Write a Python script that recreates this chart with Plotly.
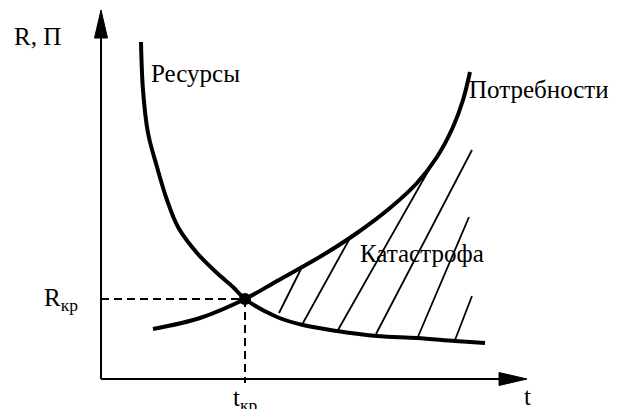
import plotly.graph_objects as go

res_t=[1.0,1.05,1.175,1.4,1.65,1.925,2.4,2.9,3.3,3.6,4.4,5.05,5.9,6.9,7.9,8.85,9.6]
res_v=[8.425,7.225,6.15,5.3,4.475,3.8,3.15,2.65,2.3,2.0,1.55,1.35,1.2,1.075,1.025,0.95,0.9]

need_t=[1.3,2.475,3.6,4.4,5.55,6.4,7.225,7.9,8.4,8.8,9.05,9.225]
need_v=[1.25,1.525,2.0,2.45,3.1,3.65,4.275,4.9,5.55,6.3,6.975,7.675]

hatch_top_t=[5.025,6.225,8.35,9.275,9.2,9.275]
hatch_top_v=[2.8,3.525,5.5,5.725,4.05,2.075]
hatch_bot_t=[4.45,5.05,5.925,6.875,7.9,8.85]
hatch_bot_v=[1.65,1.4,1.225,1.125,1.0,0.975]

crit_t=3.6
crit_v=2.0

t_max=10.65
v_max=9.225
head_len=0.7
head_half=0.1625

font="Times New Roman, Liberation Serif, serif"

fig=go.Figure()

hx=[]
hy=[]
for i in range(len(hatch_top_t)):
    hx+= [hatch_top_t[i],hatch_bot_t[i],None]
    hy+= [hatch_top_v[i],hatch_bot_v[i],None]
fig.add_trace(go.Scatter(x=hx,y=hy,mode="lines",line=dict(color="black",width=1.8)))

fig.add_trace(go.Scatter(x=[0,crit_t],y=[crit_v,crit_v],mode="lines",
    line=dict(color="black",width=2,dash="8px,5px")))
fig.add_trace(go.Scatter(x=[crit_t,crit_t],y=[crit_v,-0.1],mode="lines",
    line=dict(color="black",width=2,dash="8px,5px")))

fig.add_trace(go.Scatter(x=res_t,y=res_v,mode="lines",line=dict(color="black",width=4,shape="spline")))
fig.add_trace(go.Scatter(x=need_t,y=need_v,mode="lines",line=dict(color="black",width=4,shape="spline")))
fig.add_trace(go.Scatter(x=[crit_t],y=[crit_v],mode="markers",marker=dict(color="black",size=12)))

# axes with arrow heads
fig.add_shape(type="line",x0=0,y0=0,x1=t_max-head_len,y1=0,line=dict(color="black",width=2))
fig.add_shape(type="line",x0=0,y0=0,x1=0,y1=v_max-head_len,line=dict(color="black",width=2))
fig.add_shape(type="path",
    path=f"M {t_max-head_len},{-head_half} L {t_max},0 L {t_max-head_len},{head_half} Z",
    fillcolor="black",line=dict(color="black",width=1))
fig.add_shape(type="path",
    path=f"M {-head_half},{v_max-head_len} L 0,{v_max} L {head_half},{v_max-head_len} Z",
    fillcolor="black",line=dict(color="black",width=1))

labels=[
    ("R, П",-1.5875,8.575,"center","middle"),
    ("Ресурсы",1.2,7.65,"left","middle"),
    ("Потребности",9.15,7.25,"left","middle"),
    ("Катастрофа",8.025,3.15,"center","middle"),
    ("R<sub>кр</sub>",-1.0,2.0,"center","middle"),
    ("t<sub>кр</sub>",crit_t,-0.08,"center","top"),
    ("t",t_max,-0.05,"center","top"),
]
for txt,x,y,xa,ya in labels:
    fig.add_annotation(x=x,y=y,text=txt,showarrow=False,xanchor=xa,yanchor=ya,
        font=dict(family=font,size=25,color="black"))

fig.update_layout(width=617,height=409,margin=dict(l=0,r=0,t=0,b=0),
    font=dict(family=font),plot_bgcolor="white",paper_bgcolor="white",showlegend=False)
fig.update_xaxes(range=[-2.525,12.9],visible=False)
fig.update_yaxes(range=[-0.75,9.475],visible=False)
fig.write_html("out.html",config={"displayModeBar":False},
    post_script="document.body.style.margin='0';")
